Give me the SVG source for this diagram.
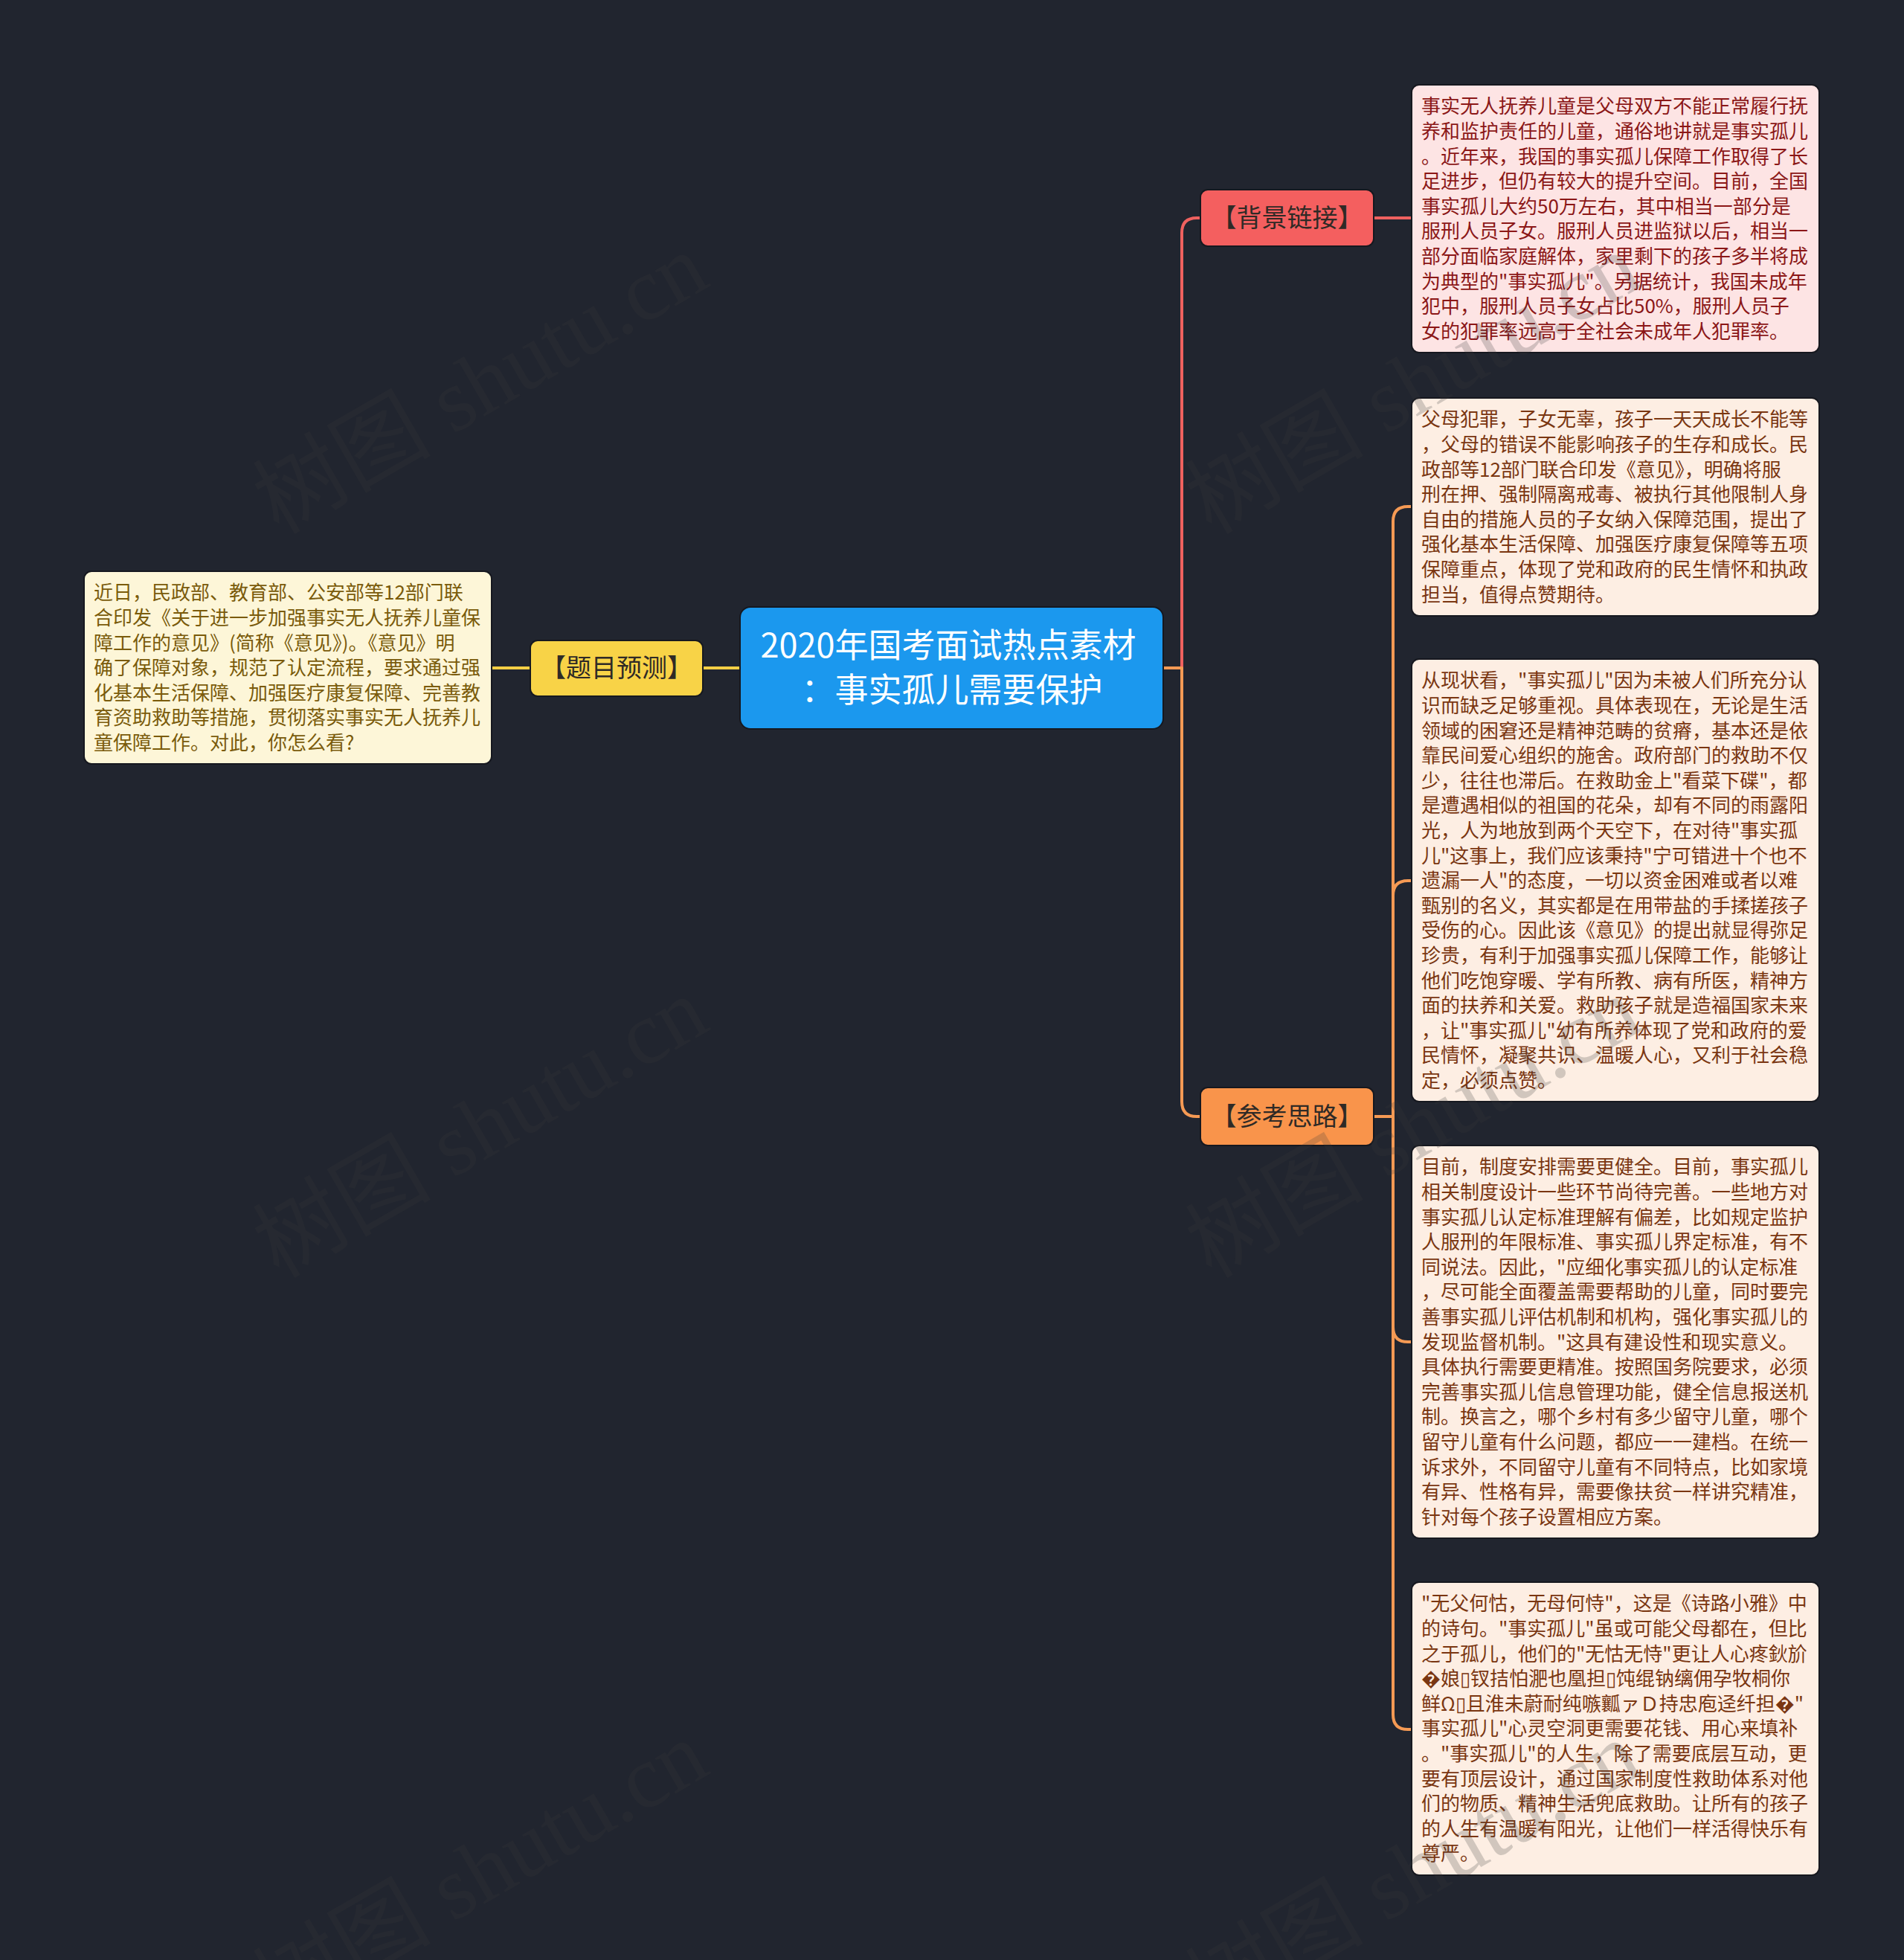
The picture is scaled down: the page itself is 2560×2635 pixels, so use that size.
<svg xmlns="http://www.w3.org/2000/svg" width="2560" height="2635" viewBox="0 0 2560 2635">
<style>
.cjk{font-family:"Noto Sans CJK SC","Noto Sans",sans-serif;}
.body{font-size:26px;}
.lbl{font-size:34px;fill:#2f2a26;text-anchor:middle;}
.conn{fill:none;stroke-width:4;stroke-linecap:round;stroke-linejoin:round;}
.wm{font-family:"Liberation Serif","Noto Sans CJK SC",serif;font-size:120px;fill:#3b3b3b;opacity:0.22;text-anchor:middle;dominant-baseline:central;}
.box{stroke:#16181f;stroke-width:2;}
</style>
<rect x="0" y="0" width="2560" height="2635" fill="#21252f"/>

<g id="connectors">
  <path class="conn" stroke="#f5cf45" d="M995 898 H945"/>
  <path class="conn" stroke="#f5cf45" d="M713 898 H661"/>
  <path class="conn" stroke="#ef615f" d="M1564 898 H1589 V313 Q1589 293 1609 293 H1614"/>
  <path class="conn" stroke="#f59a54" d="M1564 898 H1589 V1481 Q1589 1501 1609 1501 H1614"/>
  <path class="conn" stroke="#ef615f" d="M1847 293 H1898"/>
  <path class="conn" stroke="#f59a54" d="M1847 1501 H1873 V701 Q1873 681 1893 681 H1898"/>
  <path class="conn" stroke="#f59a54" d="M1847 1501 H1873 V1204 Q1873 1184 1893 1184 H1898"/>
  <path class="conn" stroke="#f59a54" d="M1847 1501 H1873 V1784 Q1873 1804 1893 1804 H1898"/>
  <path class="conn" stroke="#f59a54" d="M1847 1501 H1873 V2305 Q1873 2325 1893 2325 H1898"/>
</g>

<g id="root">
  <rect class="box" x="995" y="816" width="569" height="164" rx="14" fill="#1b98ee"/>
  <text class="cjk" font-size="45" fill="#ffffff" text-anchor="middle">
    <tspan x="1280" y="884">2020年国考面试热点素材</tspan>
    <tspan x="1280" y="944">：事实孤儿需要保护</tspan>
  </text>
</g>

<g id="n-timu">
  <rect class="box" x="713" y="861" width="232" height="75" rx="10" fill="#f8d347"/>
  <text class="cjk lbl" x="829" y="910">【题目预测】</text>
</g>

<g id="n-timu-text">
  <rect class="box" x="113" y="768" width="548" height="259" rx="10" fill="#fdf6d8"/>
  <text class="cjk body" fill="#7a5b0b">
    <tspan x="126" y="806.3">近日，民政部、教育部、公安部等12部门联</tspan>
    <tspan x="126" dy="33.6">合印发《关于进一步加强事实无人抚养儿童保</tspan>
    <tspan x="126" dy="33.6">障工作的意见》(简称《意见》)。《意见》明</tspan>
    <tspan x="126" dy="33.6">确了保障对象，规范了认定流程，要求通过强</tspan>
    <tspan x="126" dy="33.6">化基本生活保障、加强医疗康复保障、完善教</tspan>
    <tspan x="126" dy="33.6">育资助救助等措施，贯彻落实事实无人抚养儿</tspan>
    <tspan x="126" dy="33.6">童保障工作。对此，你怎么看?</tspan>
  </text>
</g>

<g id="n-beijing">
  <rect class="box" x="1614" y="255" width="233" height="76" rx="10" fill="#f45f5f"/>
  <text class="cjk lbl" x="1730.5" y="305">【背景链接】</text>
</g>

<g id="n-beijing-text">
  <rect class="box" x="1898" y="114" width="548" height="360" rx="10" fill="#fde4e4"/>
  <text class="cjk body" fill="#8b1717">
    <tspan x="1911" y="152.3">事实无人抚养儿童是父母双方不能正常履行抚</tspan>
    <tspan x="1911" dy="33.6">养和监护责任的儿童，通俗地讲就是事实孤儿</tspan>
    <tspan x="1911" dy="33.6">。近年来，我国的事实孤儿保障工作取得了长</tspan>
    <tspan x="1911" dy="33.6">足进步，但仍有较大的提升空间。目前，全国</tspan>
    <tspan x="1911" dy="33.6">事实孤儿大约50万左右，其中相当一部分是</tspan>
    <tspan x="1911" dy="33.6">服刑人员子女。服刑人员进监狱以后，相当一</tspan>
    <tspan x="1911" dy="33.6">部分面临家庭解体，家里剩下的孩子多半将成</tspan>
    <tspan x="1911" dy="33.6">为典型的"事实孤儿"。另据统计，我国未成年</tspan>
    <tspan x="1911" dy="33.6">犯中，服刑人员子女占比50%，服刑人员子</tspan>
    <tspan x="1911" dy="33.6">女的犯罪率远高于全社会未成年人犯罪率。</tspan>
  </text>
</g>

<g id="n-cankao">
  <rect class="box" x="1614" y="1462" width="233" height="78" rx="10" fill="#f9944b"/>
  <text class="cjk lbl" x="1730.5" y="1513">【参考思路】</text>
</g>

<g id="n-cankao-1">
  <rect class="box" x="1898" y="535" width="548" height="293" rx="10" fill="#fdeee3"/>
  <text class="cjk body" fill="#7a3611">
    <tspan x="1911" y="573.3">父母犯罪，子女无辜，孩子一天天成长不能等</tspan>
    <tspan x="1911" dy="33.6">，父母的错误不能影响孩子的生存和成长。民</tspan>
    <tspan x="1911" dy="33.6">政部等12部门联合印发《意见》，明确将服</tspan>
    <tspan x="1911" dy="33.6">刑在押、强制隔离戒毒、被执行其他限制人身</tspan>
    <tspan x="1911" dy="33.6">自由的措施人员的子女纳入保障范围，提出了</tspan>
    <tspan x="1911" dy="33.6">强化基本生活保障、加强医疗康复保障等五项</tspan>
    <tspan x="1911" dy="33.6">保障重点，体现了党和政府的民生情怀和执政</tspan>
    <tspan x="1911" dy="33.6">担当，值得点赞期待。</tspan>
  </text>
</g>

<g id="n-cankao-2">
  <rect class="box" x="1898" y="886" width="548" height="595" rx="10" fill="#fdeee3"/>
  <text class="cjk body" fill="#7a3611">
    <tspan x="1911" y="924.3">从现状看，"事实孤儿"因为未被人们所充分认</tspan>
    <tspan x="1911" dy="33.6">识而缺乏足够重视。具体表现在，无论是生活</tspan>
    <tspan x="1911" dy="33.6">领域的困窘还是精神范畴的贫瘠，基本还是依</tspan>
    <tspan x="1911" dy="33.6">靠民间爱心组织的施舍。政府部门的救助不仅</tspan>
    <tspan x="1911" dy="33.6">少，往往也滞后。在救助金上"看菜下碟"，都</tspan>
    <tspan x="1911" dy="33.6">是遭遇相似的祖国的花朵，却有不同的雨露阳</tspan>
    <tspan x="1911" dy="33.6">光，人为地放到两个天空下，在对待"事实孤</tspan>
    <tspan x="1911" dy="33.6">儿"这事上，我们应该秉持"宁可错进十个也不</tspan>
    <tspan x="1911" dy="33.6">遗漏一人"的态度，一切以资金困难或者以难</tspan>
    <tspan x="1911" dy="33.6">甄别的名义，其实都是在用带盐的手揉搓孩子</tspan>
    <tspan x="1911" dy="33.6">受伤的心。因此该《意见》的提出就显得弥足</tspan>
    <tspan x="1911" dy="33.6">珍贵，有利于加强事实孤儿保障工作，能够让</tspan>
    <tspan x="1911" dy="33.6">他们吃饱穿暖、学有所教、病有所医，精神方</tspan>
    <tspan x="1911" dy="33.6">面的扶养和关爱。救助孩子就是造福国家未来</tspan>
    <tspan x="1911" dy="33.6">，让"事实孤儿"幼有所养体现了党和政府的爱</tspan>
    <tspan x="1911" dy="33.6">民情怀，凝聚共识、温暖人心，又利于社会稳</tspan>
    <tspan x="1911" dy="33.6">定，必须点赞。</tspan>
  </text>
</g>

<g id="n-cankao-3">
  <rect class="box" x="1898" y="1540" width="548" height="528" rx="10" fill="#fdeee3"/>
  <text class="cjk body" fill="#7a3611">
    <tspan x="1911" y="1578.3">目前，制度安排需要更健全。目前，事实孤儿</tspan>
    <tspan x="1911" dy="33.6">相关制度设计一些环节尚待完善。一些地方对</tspan>
    <tspan x="1911" dy="33.6">事实孤儿认定标准理解有偏差，比如规定监护</tspan>
    <tspan x="1911" dy="33.6">人服刑的年限标准、事实孤儿界定标准，有不</tspan>
    <tspan x="1911" dy="33.6">同说法。因此，"应细化事实孤儿的认定标准</tspan>
    <tspan x="1911" dy="33.6">，尽可能全面覆盖需要帮助的儿童，同时要完</tspan>
    <tspan x="1911" dy="33.6">善事实孤儿评估机制和机构，强化事实孤儿的</tspan>
    <tspan x="1911" dy="33.6">发现监督机制。"这具有建设性和现实意义。</tspan>
    <tspan x="1911" dy="33.6">具体执行需要更精准。按照国务院要求，必须</tspan>
    <tspan x="1911" dy="33.6">完善事实孤儿信息管理功能，健全信息报送机</tspan>
    <tspan x="1911" dy="33.6">制。换言之，哪个乡村有多少留守儿童，哪个</tspan>
    <tspan x="1911" dy="33.6">留守儿童有什么问题，都应一一建档。在统一</tspan>
    <tspan x="1911" dy="33.6">诉求外，不同留守儿童有不同特点，比如家境</tspan>
    <tspan x="1911" dy="33.6">有异、性格有异，需要像扶贫一样讲究精准，</tspan>
    <tspan x="1911" dy="33.6">针对每个孩子设置相应方案。</tspan>
  </text>
</g>

<g id="n-cankao-4">
  <rect class="box" x="1898" y="2127" width="548" height="394" rx="10" fill="#fdeee3"/>
  <text class="cjk body" fill="#7a3611">
    <tspan x="1911" y="2165.3">"无父何怙，无母何恃"，这是《诗路小雅》中</tspan>
    <tspan x="1911" dy="33.6">的诗句。"事实孤儿"虽或可能父母都在，但比</tspan>
    <tspan x="1911" dy="33.6">之于孤儿，他们的"无怙无恃"更让人心疼鈥斺</tspan>
    <tspan x="1911" dy="33.6">�娘▯钗拮怕淝也凰担▯饨绲钠缡佣孕牧桐你</tspan>
    <tspan x="1911" dy="33.6">鲜Ω▯且淮未蔚耐纯嗾瓤ァＤ持忠庖迳纤担�"</tspan>
    <tspan x="1911" dy="33.6">事实孤儿"心灵空洞更需要花钱、用心来填补</tspan>
    <tspan x="1911" dy="33.6">。"事实孤儿"的人生，除了需要底层互动，更</tspan>
    <tspan x="1911" dy="33.6">要有顶层设计，通过国家制度性救助体系对他</tspan>
    <tspan x="1911" dy="33.6">们的物质、精神生活兜底救助。让所有的孩子</tspan>
    <tspan x="1911" dy="33.6">的人生有温暖有阳光，让他们一样活得快乐有</tspan>
    <tspan x="1911" dy="33.6">尊严。</tspan>
  </text>
</g>

<g id="watermarks">
  <text class="wm" x="646" y="516" transform="rotate(-30 646 516)">树图 shutu.cn</text>
  <text class="wm" x="646" y="1516" transform="rotate(-30 646 1516)">树图 shutu.cn</text>
  <text class="wm" x="646" y="2516" transform="rotate(-30 646 2516)">树图 shutu.cn</text>
  <text class="wm" x="1900" y="516" transform="rotate(-30 1900 516)">树图 shutu.cn</text>
  <text class="wm" x="1900" y="1516" transform="rotate(-30 1900 1516)">树图 shutu.cn</text>
  <text class="wm" x="1900" y="2516" transform="rotate(-30 1900 2516)">树图 shutu.cn</text>
</g>
</svg>
